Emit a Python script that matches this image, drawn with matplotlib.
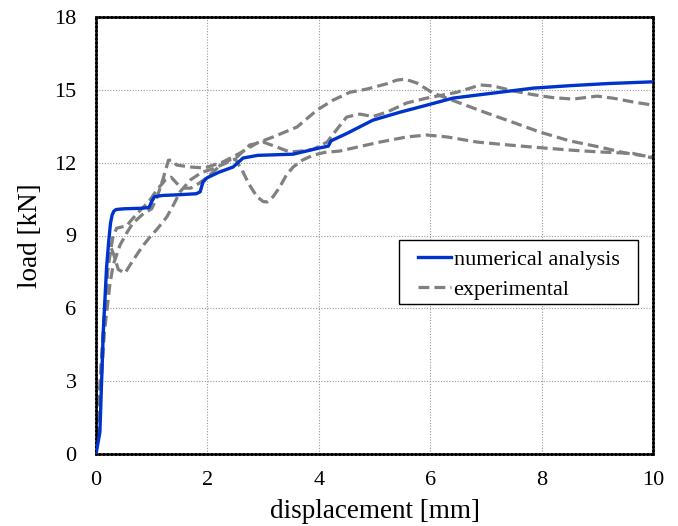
"""Load-displacement curves: numerical analysis vs. experimental tests"""
import numpy as np
import matplotlib.pyplot as plt
from matplotlib.patches import Rectangle

# numerical analysis curve
num_disp = [0, 0.07, 0.13, 0.19, 0.23, 0.26, 0.29, 0.32, 0.36, 0.5, 0.8, 0.95, 1.0,
            1.05, 1.2, 1.5, 1.8, 1.87, 1.92, 1.99, 2.2, 2.46, 2.64, 2.9, 3.54, 4.0,
            4.17, 4.22, 4.5, 4.97, 5.46, 5.94, 6.41, 7.25, 7.85, 8.5, 9.2, 10.0]
num_load = [0, 0.9, 5.0, 7.7, 8.8, 9.5, 9.85, 10.0, 10.07, 10.1, 10.12, 10.15, 10.4,
            10.6, 10.65, 10.68, 10.72, 10.8, 11.2, 11.37, 11.6, 11.82, 12.19, 12.3,
            12.35, 12.6, 12.68, 12.9, 13.2, 13.75, 14.08, 14.37, 14.66, 14.9, 15.07,
            15.17, 15.26, 15.33]

# experimental test 1
exp1_disp = [0, 0.08, 0.15, 0.25, 0.31, 0.43, 0.56, 0.66, 0.85, 1.0, 1.1, 1.2, 1.3,
             1.36, 1.45, 1.7, 1.95, 2.28, 2.59, 2.89, 3.18, 3.61, 3.97, 4.26, 4.56,
             4.86, 5.22, 5.4, 5.55, 5.76, 6.05, 6.48, 7.02, 7.5, 7.97, 8.5, 9.05, 9.5,
             10.0]
exp1_load = [0, 2.5, 5.0, 7.0, 7.8, 8.6, 9.14, 9.5, 9.9, 10.1, 10.6, 11.3, 12.1,
             12.1, 11.9, 11.82, 11.78, 12.03, 12.4, 12.81, 13.06, 13.47, 14.17, 14.58,
             14.9, 15.03, 15.25, 15.4, 15.44, 15.28, 14.87, 14.5, 14.04, 13.65, 13.26,
             12.9, 12.64, 12.4, 12.23]

# experimental test 2
exp2_disp = [0, 0.1, 0.2, 0.3, 0.37, 0.55, 0.66, 0.8, 0.95, 1.1, 1.25, 1.35, 1.45,
             1.55, 1.7, 1.85, 2.0, 2.28, 2.53, 2.76, 3.0, 3.25, 3.48, 3.7, 3.9, 4.15,
             4.3, 4.5, 4.74, 4.97, 5.22, 5.58, 5.94, 6.48, 6.9, 7.13, 7.5, 7.85, 8.2,
             8.56, 9.0, 9.3, 9.64, 10.0]
exp2_load = [0, 4.0, 7.5, 8.9, 9.3, 9.4, 9.7, 10.05, 10.4, 10.9, 11.3, 11.4, 11.15,
             10.95, 10.95, 11.15, 11.4, 11.99, 12.23, 12.73, 12.85, 12.64, 12.44, 12.48,
             12.55, 12.85, 13.3, 13.88, 14.0, 13.9, 14.08, 14.46, 14.66, 14.9, 15.2,
             15.16, 14.95, 14.8, 14.68, 14.62, 14.74, 14.65, 14.5, 14.37]

# experimental test 3
exp3_disp = [0, 0.08, 0.16, 0.22, 0.27, 0.32, 0.4, 0.52, 0.61, 0.73, 0.85, 0.97, 1.11,
             1.27, 1.4, 1.51, 1.7, 1.9, 2.1, 2.3, 2.5, 2.62, 2.75, 2.89, 3.0, 3.07,
             3.18, 3.3, 3.42, 3.54, 3.7, 3.9, 4.1, 4.38, 4.61, 5.1, 5.58, 5.94, 6.3,
             6.84, 7.3, 7.85, 8.5, 9.05, 9.64, 10.0]
exp3_load = [0, 3.0, 6.0, 7.8, 8.5, 8.2, 7.6, 7.45, 7.78, 8.2, 8.6, 8.94, 9.3, 9.76,
             10.3, 10.8, 11.3, 11.6, 11.75, 11.95, 12.15, 11.7, 11.1, 10.6, 10.4, 10.38,
             10.6, 11.0, 11.5, 11.82, 12.1, 12.31, 12.42, 12.48, 12.6, 12.85, 13.06,
             13.14, 13.06, 12.85, 12.75, 12.64, 12.52, 12.44, 12.38, 12.19]

x_ticks = [0, 2, 4, 6, 8, 10]
y_ticks = [0, 3, 6, 9, 12, 15, 18]

plt.rcParams['font.family'] = ['Liberation Serif', 'DejaVu Serif']

fig = plt.figure(figsize=(6.78, 5.26), dpi=100)
ax = fig.add_axes([96 / 678, 72 / 526, 557 / 678, 437 / 526])

gray = '#808080'
blue = '#0033cc'
dash = (0, (3.4, 1.6))

ax.plot(num_disp, num_load, color=blue, lw=2.4, zorder=3, label='numerical analysis',
        solid_joinstyle='round')
ax.plot(exp1_disp, exp1_load, color=gray, lw=2.3, linestyle=dash, zorder=2,
        label='experimental')
ax.plot(exp2_disp, exp2_load, color=gray, lw=2.3, linestyle=dash, zorder=2)
ax.plot(exp3_disp, exp3_load, color=gray, lw=2.3, linestyle=dash, zorder=2)

ax.set_xlim(0, 10)
ax.set_ylim(0, 18)
ax.set_xticks(x_ticks)
ax.set_yticks(y_ticks)
ax.tick_params(length=0, labelsize=16)
ax.tick_params(axis='x', pad=12)
ax.tick_params(axis='y', pad=14)

# dotted grid and frame
ax.grid(True, color='#999999', linestyle=(0, (1, 1.5)), linewidth=0.8)
for side in ['left', 'right', 'top', 'bottom']:
    ax.spines[side].set_linestyle((0, (1, 0.6)))
    ax.spines[side].set_linewidth(1.8)
    ax.spines[side].set_color('black')

ax.set_xlabel('displacement [mm]', fontsize=19.5, labelpad=7)
ax.set_ylabel('load [kN]', fontsize=19.5, labelpad=8)

# legend box drawn separately so the padding is wider left/right than top/bottom
box = Rectangle((0.544, 0.343), 0.429, 0.147, transform=ax.transAxes,
                facecolor='white', edgecolor='black', linewidth=1.0, zorder=4)
ax.add_patch(box)
leg = ax.legend(loc='upper left', bbox_to_anchor=(0.578, 0.469), borderaxespad=0,
                fontsize=16, frameon=False, handlelength=1.5, handletextpad=0.1,
                borderpad=0, labelspacing=0.45)
leg.set_zorder(5)

plt.savefig('out.png', dpi=100)
